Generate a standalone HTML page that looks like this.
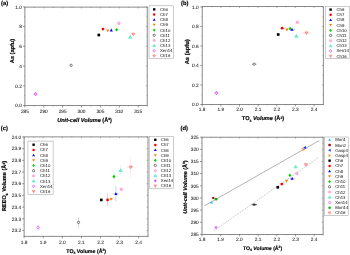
<!DOCTYPE html><html><head><meta charset="utf-8"><style>html,body{margin:0;padding:0;background:#fff;width:350px;height:255px;overflow:hidden}svg{display:block;filter:blur(0.4px)}text{font-family:"Liberation Sans",sans-serif;text-rendering:geometricPrecision}</style></head><body>
<svg width="350" height="255" viewBox="0 0 350 255">
<rect width="350" height="255" fill="#fff"/>
<rect x="24.90" y="7.10" width="122.30" height="98.50" fill="none" stroke="#6e6e6e" stroke-width="0.8"/>
<line x1="24.90" y1="105.60" x2="24.90" y2="107.50" stroke="#555" stroke-width="0.6" />
<line x1="24.90" y1="7.10" x2="24.90" y2="8.50" stroke="#6e6e6e" stroke-width="0.5" />
<text x="24.90" y="112.80" font-size="4.8" text-anchor="middle" font-weight="normal" font-style="normal" fill="#222222" stroke="#222222" stroke-width="0.05" >285</text>
<line x1="43.77" y1="105.60" x2="43.77" y2="107.50" stroke="#555" stroke-width="0.6" />
<line x1="43.77" y1="7.10" x2="43.77" y2="8.50" stroke="#6e6e6e" stroke-width="0.5" />
<text x="43.77" y="112.80" font-size="4.8" text-anchor="middle" font-weight="normal" font-style="normal" fill="#222222" stroke="#222222" stroke-width="0.05" >290</text>
<line x1="62.65" y1="105.60" x2="62.65" y2="107.50" stroke="#555" stroke-width="0.6" />
<line x1="62.65" y1="7.10" x2="62.65" y2="8.50" stroke="#6e6e6e" stroke-width="0.5" />
<text x="62.65" y="112.80" font-size="4.8" text-anchor="middle" font-weight="normal" font-style="normal" fill="#222222" stroke="#222222" stroke-width="0.05" >295</text>
<line x1="81.53" y1="105.60" x2="81.53" y2="107.50" stroke="#555" stroke-width="0.6" />
<line x1="81.53" y1="7.10" x2="81.53" y2="8.50" stroke="#6e6e6e" stroke-width="0.5" />
<text x="81.53" y="112.80" font-size="4.8" text-anchor="middle" font-weight="normal" font-style="normal" fill="#222222" stroke="#222222" stroke-width="0.05" >300</text>
<line x1="100.40" y1="105.60" x2="100.40" y2="107.50" stroke="#555" stroke-width="0.6" />
<line x1="100.40" y1="7.10" x2="100.40" y2="8.50" stroke="#6e6e6e" stroke-width="0.5" />
<text x="100.40" y="112.80" font-size="4.8" text-anchor="middle" font-weight="normal" font-style="normal" fill="#222222" stroke="#222222" stroke-width="0.05" >305</text>
<line x1="119.28" y1="105.60" x2="119.28" y2="107.50" stroke="#555" stroke-width="0.6" />
<line x1="119.28" y1="7.10" x2="119.28" y2="8.50" stroke="#6e6e6e" stroke-width="0.5" />
<text x="119.28" y="112.80" font-size="4.8" text-anchor="middle" font-weight="normal" font-style="normal" fill="#222222" stroke="#222222" stroke-width="0.05" >310</text>
<line x1="138.15" y1="105.60" x2="138.15" y2="107.50" stroke="#555" stroke-width="0.6" />
<line x1="138.15" y1="7.10" x2="138.15" y2="8.50" stroke="#6e6e6e" stroke-width="0.5" />
<text x="138.15" y="112.80" font-size="4.8" text-anchor="middle" font-weight="normal" font-style="normal" fill="#222222" stroke="#222222" stroke-width="0.05" >315</text>
<line x1="34.34" y1="105.60" x2="34.34" y2="106.40" stroke="#6e6e6e" stroke-width="0.45" />
<line x1="34.34" y1="7.10" x2="34.34" y2="7.90" stroke="#6e6e6e" stroke-width="0.45" />
<line x1="53.21" y1="105.60" x2="53.21" y2="106.40" stroke="#6e6e6e" stroke-width="0.45" />
<line x1="53.21" y1="7.10" x2="53.21" y2="7.90" stroke="#6e6e6e" stroke-width="0.45" />
<line x1="72.09" y1="105.60" x2="72.09" y2="106.40" stroke="#6e6e6e" stroke-width="0.45" />
<line x1="72.09" y1="7.10" x2="72.09" y2="7.90" stroke="#6e6e6e" stroke-width="0.45" />
<line x1="90.96" y1="105.60" x2="90.96" y2="106.40" stroke="#6e6e6e" stroke-width="0.45" />
<line x1="90.96" y1="7.10" x2="90.96" y2="7.90" stroke="#6e6e6e" stroke-width="0.45" />
<line x1="109.84" y1="105.60" x2="109.84" y2="106.40" stroke="#6e6e6e" stroke-width="0.45" />
<line x1="109.84" y1="7.10" x2="109.84" y2="7.90" stroke="#6e6e6e" stroke-width="0.45" />
<line x1="128.71" y1="105.60" x2="128.71" y2="106.40" stroke="#6e6e6e" stroke-width="0.45" />
<line x1="128.71" y1="7.10" x2="128.71" y2="7.90" stroke="#6e6e6e" stroke-width="0.45" />
<line x1="147.59" y1="105.60" x2="147.59" y2="106.40" stroke="#6e6e6e" stroke-width="0.45" />
<line x1="147.59" y1="7.10" x2="147.59" y2="7.90" stroke="#6e6e6e" stroke-width="0.45" />
<line x1="24.90" y1="105.60" x2="23.00" y2="105.60" stroke="#555" stroke-width="0.6" />
<line x1="147.20" y1="105.60" x2="145.80" y2="105.60" stroke="#6e6e6e" stroke-width="0.5" />
<text x="21.80" y="107.30" font-size="4.8" text-anchor="end" font-weight="normal" font-style="normal" fill="#222222" stroke="#222222" stroke-width="0.05" >0.0</text>
<line x1="24.90" y1="85.84" x2="23.00" y2="85.84" stroke="#555" stroke-width="0.6" />
<line x1="147.20" y1="85.84" x2="145.80" y2="85.84" stroke="#6e6e6e" stroke-width="0.5" />
<text x="21.80" y="87.54" font-size="4.8" text-anchor="end" font-weight="normal" font-style="normal" fill="#222222" stroke="#222222" stroke-width="0.05" >0.2</text>
<line x1="24.90" y1="66.08" x2="23.00" y2="66.08" stroke="#555" stroke-width="0.6" />
<line x1="147.20" y1="66.08" x2="145.80" y2="66.08" stroke="#6e6e6e" stroke-width="0.5" />
<text x="21.80" y="67.78" font-size="4.8" text-anchor="end" font-weight="normal" font-style="normal" fill="#222222" stroke="#222222" stroke-width="0.05" ><tspan fill="#ccc" stroke="#ccc">.</tspan>4</text>
<line x1="24.90" y1="46.32" x2="23.00" y2="46.32" stroke="#555" stroke-width="0.6" />
<line x1="147.20" y1="46.32" x2="145.80" y2="46.32" stroke="#6e6e6e" stroke-width="0.5" />
<text x="21.80" y="48.02" font-size="4.8" text-anchor="end" font-weight="normal" font-style="normal" fill="#222222" stroke="#222222" stroke-width="0.05" ><tspan fill="#ccc" stroke="#ccc">.</tspan>6</text>
<line x1="24.90" y1="26.56" x2="23.00" y2="26.56" stroke="#555" stroke-width="0.6" />
<line x1="147.20" y1="26.56" x2="145.80" y2="26.56" stroke="#6e6e6e" stroke-width="0.5" />
<text x="21.80" y="28.26" font-size="4.8" text-anchor="end" font-weight="normal" font-style="normal" fill="#222222" stroke="#222222" stroke-width="0.05" ><tspan fill="#ccc" stroke="#ccc">.</tspan>8</text>
<line x1="24.90" y1="6.80" x2="23.00" y2="6.80" stroke="#555" stroke-width="0.6" />
<line x1="147.20" y1="6.80" x2="145.80" y2="6.80" stroke="#6e6e6e" stroke-width="0.5" />
<text x="21.80" y="8.50" font-size="4.8" text-anchor="end" font-weight="normal" font-style="normal" fill="#222222" stroke="#222222" stroke-width="0.05" >1.0</text>
<line x1="24.90" y1="95.72" x2="24.10" y2="95.72" stroke="#6e6e6e" stroke-width="0.45" />
<line x1="147.20" y1="95.72" x2="146.40" y2="95.72" stroke="#6e6e6e" stroke-width="0.45" />
<line x1="24.90" y1="75.96" x2="24.10" y2="75.96" stroke="#6e6e6e" stroke-width="0.45" />
<line x1="147.20" y1="75.96" x2="146.40" y2="75.96" stroke="#6e6e6e" stroke-width="0.45" />
<line x1="24.90" y1="56.20" x2="24.10" y2="56.20" stroke="#6e6e6e" stroke-width="0.45" />
<line x1="147.20" y1="56.20" x2="146.40" y2="56.20" stroke="#6e6e6e" stroke-width="0.45" />
<line x1="24.90" y1="36.44" x2="24.10" y2="36.44" stroke="#6e6e6e" stroke-width="0.45" />
<line x1="147.20" y1="36.44" x2="146.40" y2="36.44" stroke="#6e6e6e" stroke-width="0.45" />
<line x1="24.90" y1="16.68" x2="24.10" y2="16.68" stroke="#6e6e6e" stroke-width="0.45" />
<line x1="147.20" y1="16.68" x2="146.40" y2="16.68" stroke="#6e6e6e" stroke-width="0.45" />
<text x="1.00" y="5.30" font-size="5.8" text-anchor="start" font-weight="bold" font-style="normal" fill="#000000" stroke="#000000" stroke-width="0.16" >(a)</text>
<text x="84.50" y="122.00" font-size="5.6" text-anchor="middle" font-weight="bold" font-style="normal" fill="#000000" stroke="#000000" stroke-width="0.16" ><tspan font-style="italic">Unit-cell Volume </tspan>(Å<tspan font-size="3.2" dy="-1.8">3</tspan><tspan dy="1.8">)</tspan></text>
<text x="0.00" y="0.00" font-size="5.6" text-anchor="middle" font-weight="bold" font-style="normal" fill="#000000" stroke="#000000" stroke-width="0.16" transform="translate(13.9 51) rotate(-90)">As (apfu)</text>
<rect x="97.47" y="33.67" width="2.66" height="2.66" fill="#000000"/>
<circle cx="103.00" cy="29.10" r="1.40" fill="#ff0000"/>
<path d="M107.80 32.21L109.41 29.41L106.19 29.41Z" fill="#ff7a00"/>
<path d="M111.30 28.59L112.91 31.39L109.69 31.39Z" fill="#0000ff"/>
<path d="M116.60 27.88L118.14 29.70L116.60 31.52L115.06 29.70Z" fill="#00d000"/>
<circle cx="118.90" cy="23.30" r="1.33" fill="#ffb7e0" stroke="#ff88cc" stroke-width="0.56"/>
<path d="M130.20 35.56L131.74 38.22L128.66 38.22Z" fill="#95f2d7" stroke="#40e8b8" stroke-width="0.70" stroke-linejoin="round"/>
<path d="M133.30 35.84L134.84 33.18L131.76 33.18Z" fill="#ffb3b0" stroke="#ff7570" stroke-width="0.70" stroke-linejoin="round"/>
<circle cx="71.10" cy="65.30" r="1.15" fill="#fff" stroke="#3a3a3a" stroke-width="0.65"/>
<path d="M35.60 92.35L37.21 94.10L35.60 95.85L33.99 94.10Z" fill="#efa7ff" stroke="#e050ff" stroke-width="0.77" stroke-linejoin="round"/>
<rect x="149.00" y="5.80" width="24.30" height="52.70" fill="#fff" stroke="#999" stroke-width="0.5"/>
<rect x="153.01" y="8.21" width="2.38" height="2.38" fill="#000000"/>
<text x="160.00" y="10.90" font-size="4.3" text-anchor="start" font-weight="normal" font-style="normal" fill="#1e1e1e" stroke="#1e1e1e" stroke-width="0.03" >Ch6</text>
<circle cx="154.20" cy="14.57" r="1.25" fill="#ff0000"/>
<text x="160.00" y="16.07" font-size="4.3" text-anchor="start" font-weight="normal" font-style="normal" fill="#1e1e1e" stroke="#1e1e1e" stroke-width="0.03" >Ch7</text>
<path d="M154.20 18.30L155.64 20.80L152.76 20.80Z" fill="#0000ff"/>
<text x="160.00" y="21.24" font-size="4.3" text-anchor="start" font-weight="normal" font-style="normal" fill="#1e1e1e" stroke="#1e1e1e" stroke-width="0.03" >Ch8</text>
<path d="M154.20 26.35L155.64 23.85L152.76 23.85Z" fill="#ff7a00"/>
<text x="160.00" y="26.41" font-size="4.3" text-anchor="start" font-weight="normal" font-style="normal" fill="#1e1e1e" stroke="#1e1e1e" stroke-width="0.03" >Ch9</text>
<path d="M154.20 28.45L155.57 30.08L154.20 31.70L152.82 30.08Z" fill="#00d000"/>
<text x="160.00" y="31.58" font-size="4.3" text-anchor="start" font-weight="normal" font-style="normal" fill="#1e1e1e" stroke="#1e1e1e" stroke-width="0.03" >Ch10</text>
<circle cx="154.20" cy="35.25" r="1.15" fill="#fff" stroke="#3a3a3a" stroke-width="0.65"/>
<text x="160.00" y="36.75" font-size="4.3" text-anchor="start" font-weight="normal" font-style="normal" fill="#1e1e1e" stroke="#1e1e1e" stroke-width="0.03" >Ch11</text>
<circle cx="154.20" cy="40.42" r="1.19" fill="#ffb7e0" stroke="#ff88cc" stroke-width="0.50"/>
<text x="160.00" y="41.92" font-size="4.3" text-anchor="start" font-weight="normal" font-style="normal" fill="#1e1e1e" stroke="#1e1e1e" stroke-width="0.03" >Ch12</text>
<path d="M154.20 44.21L155.57 46.59L152.82 46.59Z" fill="#95f2d7" stroke="#40e8b8" stroke-width="0.62" stroke-linejoin="round"/>
<text x="160.00" y="47.09" font-size="4.3" text-anchor="start" font-weight="normal" font-style="normal" fill="#1e1e1e" stroke="#1e1e1e" stroke-width="0.03" >Ch13</text>
<path d="M154.20 49.26L155.45 50.76L154.20 52.26L152.95 50.76Z" fill="none" stroke="#e050ff" stroke-width="0.75"/>
<text x="160.00" y="52.26" font-size="4.3" text-anchor="start" font-weight="normal" font-style="normal" fill="#1e1e1e" stroke="#1e1e1e" stroke-width="0.03" >Xen14</text>
<path d="M154.20 57.30L155.57 54.93L152.82 54.93Z" fill="#ffb3b0" stroke="#ff7570" stroke-width="0.62" stroke-linejoin="round"/>
<text x="160.00" y="57.43" font-size="4.3" text-anchor="start" font-weight="normal" font-style="normal" fill="#1e1e1e" stroke="#1e1e1e" stroke-width="0.03" >Ch16</text>
<rect x="202.20" y="6.60" width="121.10" height="97.90" fill="none" stroke="#6e6e6e" stroke-width="0.8"/>
<line x1="202.20" y1="104.50" x2="202.20" y2="106.40" stroke="#555" stroke-width="0.6" />
<line x1="202.20" y1="6.60" x2="202.20" y2="8.00" stroke="#6e6e6e" stroke-width="0.5" />
<text x="202.20" y="110.80" font-size="4.8" text-anchor="middle" font-weight="normal" font-style="normal" fill="#222222" stroke="#222222" stroke-width="0.05" >1.8</text>
<line x1="220.85" y1="104.50" x2="220.85" y2="106.40" stroke="#555" stroke-width="0.6" />
<line x1="220.85" y1="6.60" x2="220.85" y2="8.00" stroke="#6e6e6e" stroke-width="0.5" />
<text x="220.85" y="110.80" font-size="4.8" text-anchor="middle" font-weight="normal" font-style="normal" fill="#222222" stroke="#222222" stroke-width="0.05" >1.9</text>
<line x1="239.50" y1="104.50" x2="239.50" y2="106.40" stroke="#555" stroke-width="0.6" />
<line x1="239.50" y1="6.60" x2="239.50" y2="8.00" stroke="#6e6e6e" stroke-width="0.5" />
<text x="239.50" y="110.80" font-size="4.8" text-anchor="middle" font-weight="normal" font-style="normal" fill="#222222" stroke="#222222" stroke-width="0.05" >2.0</text>
<line x1="258.15" y1="104.50" x2="258.15" y2="106.40" stroke="#555" stroke-width="0.6" />
<line x1="258.15" y1="6.60" x2="258.15" y2="8.00" stroke="#6e6e6e" stroke-width="0.5" />
<text x="258.15" y="110.80" font-size="4.8" text-anchor="middle" font-weight="normal" font-style="normal" fill="#222222" stroke="#222222" stroke-width="0.05" >2.1</text>
<line x1="276.80" y1="104.50" x2="276.80" y2="106.40" stroke="#555" stroke-width="0.6" />
<line x1="276.80" y1="6.60" x2="276.80" y2="8.00" stroke="#6e6e6e" stroke-width="0.5" />
<text x="276.80" y="110.80" font-size="4.8" text-anchor="middle" font-weight="normal" font-style="normal" fill="#222222" stroke="#222222" stroke-width="0.05" >2.2</text>
<line x1="295.45" y1="104.50" x2="295.45" y2="106.40" stroke="#555" stroke-width="0.6" />
<line x1="295.45" y1="6.60" x2="295.45" y2="8.00" stroke="#6e6e6e" stroke-width="0.5" />
<text x="295.45" y="110.80" font-size="4.8" text-anchor="middle" font-weight="normal" font-style="normal" fill="#222222" stroke="#222222" stroke-width="0.05" >2.3</text>
<line x1="314.10" y1="104.50" x2="314.10" y2="106.40" stroke="#555" stroke-width="0.6" />
<line x1="314.10" y1="6.60" x2="314.10" y2="8.00" stroke="#6e6e6e" stroke-width="0.5" />
<text x="314.10" y="110.80" font-size="4.8" text-anchor="middle" font-weight="normal" font-style="normal" fill="#222222" stroke="#222222" stroke-width="0.05" >2.4</text>
<line x1="211.53" y1="104.50" x2="211.53" y2="105.30" stroke="#6e6e6e" stroke-width="0.45" />
<line x1="211.53" y1="6.60" x2="211.53" y2="7.40" stroke="#6e6e6e" stroke-width="0.45" />
<line x1="230.17" y1="104.50" x2="230.17" y2="105.30" stroke="#6e6e6e" stroke-width="0.45" />
<line x1="230.17" y1="6.60" x2="230.17" y2="7.40" stroke="#6e6e6e" stroke-width="0.45" />
<line x1="248.82" y1="104.50" x2="248.82" y2="105.30" stroke="#6e6e6e" stroke-width="0.45" />
<line x1="248.82" y1="6.60" x2="248.82" y2="7.40" stroke="#6e6e6e" stroke-width="0.45" />
<line x1="267.47" y1="104.50" x2="267.47" y2="105.30" stroke="#6e6e6e" stroke-width="0.45" />
<line x1="267.47" y1="6.60" x2="267.47" y2="7.40" stroke="#6e6e6e" stroke-width="0.45" />
<line x1="286.12" y1="104.50" x2="286.12" y2="105.30" stroke="#6e6e6e" stroke-width="0.45" />
<line x1="286.12" y1="6.60" x2="286.12" y2="7.40" stroke="#6e6e6e" stroke-width="0.45" />
<line x1="304.77" y1="104.50" x2="304.77" y2="105.30" stroke="#6e6e6e" stroke-width="0.45" />
<line x1="304.77" y1="6.60" x2="304.77" y2="7.40" stroke="#6e6e6e" stroke-width="0.45" />
<line x1="323.43" y1="104.50" x2="323.43" y2="105.30" stroke="#6e6e6e" stroke-width="0.45" />
<line x1="323.43" y1="6.60" x2="323.43" y2="7.40" stroke="#6e6e6e" stroke-width="0.45" />
<line x1="202.20" y1="104.50" x2="200.30" y2="104.50" stroke="#555" stroke-width="0.6" />
<line x1="323.30" y1="104.50" x2="321.90" y2="104.50" stroke="#6e6e6e" stroke-width="0.5" />
<text x="198.60" y="106.20" font-size="4.8" text-anchor="end" font-weight="normal" font-style="normal" fill="#222222" stroke="#222222" stroke-width="0.05" >0.0</text>
<line x1="202.20" y1="84.98" x2="200.30" y2="84.98" stroke="#555" stroke-width="0.6" />
<line x1="323.30" y1="84.98" x2="321.90" y2="84.98" stroke="#6e6e6e" stroke-width="0.5" />
<text x="198.60" y="86.68" font-size="4.8" text-anchor="end" font-weight="normal" font-style="normal" fill="#222222" stroke="#222222" stroke-width="0.05" >0.2</text>
<line x1="202.20" y1="65.46" x2="200.30" y2="65.46" stroke="#555" stroke-width="0.6" />
<line x1="323.30" y1="65.46" x2="321.90" y2="65.46" stroke="#6e6e6e" stroke-width="0.5" />
<text x="198.60" y="67.16" font-size="4.8" text-anchor="end" font-weight="normal" font-style="normal" fill="#222222" stroke="#222222" stroke-width="0.05" >0.4</text>
<line x1="202.20" y1="45.94" x2="200.30" y2="45.94" stroke="#555" stroke-width="0.6" />
<line x1="323.30" y1="45.94" x2="321.90" y2="45.94" stroke="#6e6e6e" stroke-width="0.5" />
<text x="198.60" y="47.64" font-size="4.8" text-anchor="end" font-weight="normal" font-style="normal" fill="#222222" stroke="#222222" stroke-width="0.05" >0.6</text>
<line x1="202.20" y1="26.42" x2="200.30" y2="26.42" stroke="#555" stroke-width="0.6" />
<line x1="323.30" y1="26.42" x2="321.90" y2="26.42" stroke="#6e6e6e" stroke-width="0.5" />
<text x="198.60" y="28.12" font-size="4.8" text-anchor="end" font-weight="normal" font-style="normal" fill="#222222" stroke="#222222" stroke-width="0.05" >0.8</text>
<line x1="202.20" y1="6.90" x2="200.30" y2="6.90" stroke="#555" stroke-width="0.6" />
<line x1="323.30" y1="6.90" x2="321.90" y2="6.90" stroke="#6e6e6e" stroke-width="0.5" />
<text x="198.60" y="8.60" font-size="4.8" text-anchor="end" font-weight="normal" font-style="normal" fill="#222222" stroke="#222222" stroke-width="0.05" >1.0</text>
<line x1="202.20" y1="94.74" x2="201.40" y2="94.74" stroke="#6e6e6e" stroke-width="0.45" />
<line x1="323.30" y1="94.74" x2="322.50" y2="94.74" stroke="#6e6e6e" stroke-width="0.45" />
<line x1="202.20" y1="75.22" x2="201.40" y2="75.22" stroke="#6e6e6e" stroke-width="0.45" />
<line x1="323.30" y1="75.22" x2="322.50" y2="75.22" stroke="#6e6e6e" stroke-width="0.45" />
<line x1="202.20" y1="55.70" x2="201.40" y2="55.70" stroke="#6e6e6e" stroke-width="0.45" />
<line x1="323.30" y1="55.70" x2="322.50" y2="55.70" stroke="#6e6e6e" stroke-width="0.45" />
<line x1="202.20" y1="36.18" x2="201.40" y2="36.18" stroke="#6e6e6e" stroke-width="0.45" />
<line x1="323.30" y1="36.18" x2="322.50" y2="36.18" stroke="#6e6e6e" stroke-width="0.45" />
<line x1="202.20" y1="16.66" x2="201.40" y2="16.66" stroke="#6e6e6e" stroke-width="0.45" />
<line x1="323.30" y1="16.66" x2="322.50" y2="16.66" stroke="#6e6e6e" stroke-width="0.45" />
<text x="181.10" y="5.30" font-size="5.8" text-anchor="start" font-weight="bold" font-style="normal" fill="#000000" stroke="#000000" stroke-width="0.16" >(b)</text>
<text x="263.00" y="120.40" font-size="5.6" text-anchor="middle" font-weight="bold" font-style="normal" fill="#000000" stroke="#000000" stroke-width="0.16" >TO<tspan font-size="3.4" dy="1.2">4</tspan><tspan dy="-1.2" font-style="italic"> Volume </tspan>(Å<tspan font-size="3.4" dy="-1.9">3</tspan><tspan dy="1.9">)</tspan></text>
<text x="0.00" y="0.00" font-size="5.8" text-anchor="middle" font-weight="bold" font-style="normal" fill="#000000" stroke="#000000" stroke-width="0.16" transform="translate(188.7 51.8) rotate(-90)">As (apfu)</text>
<line x1="279.40" y1="28.20" x2="285.10" y2="28.20" stroke="#ff0000" stroke-width="0.4" opacity="0.5"/>
<line x1="289.00" y1="29.60" x2="295.10" y2="29.60" stroke="#0000ff" stroke-width="0.4" opacity="0.5"/>
<line x1="301.40" y1="33.00" x2="310.90" y2="33.00" stroke="#ff7570" stroke-width="0.4" opacity="0.5"/>
<rect x="276.87" y="33.17" width="2.66" height="2.66" fill="#000000"/>
<circle cx="282.20" cy="28.20" r="1.40" fill="#ff0000"/>
<path d="M287.00 31.41L288.61 28.61L285.39 28.61Z" fill="#ff7a00"/>
<path d="M290.10 26.78L291.64 28.60L290.10 30.42L288.56 28.60Z" fill="#00d000"/>
<path d="M292.00 27.99L293.61 30.79L290.39 30.79Z" fill="#0000ff"/>
<circle cx="297.30" cy="22.30" r="1.33" fill="#ffb7e0" stroke="#ff88cc" stroke-width="0.56"/>
<path d="M296.40 34.56L297.94 37.22L294.86 37.22Z" fill="#95f2d7" stroke="#40e8b8" stroke-width="0.70" stroke-linejoin="round"/>
<path d="M306.50 34.54L308.04 31.88L304.96 31.88Z" fill="#ffb3b0" stroke="#ff7570" stroke-width="0.70" stroke-linejoin="round"/>
<line x1="252.00" y1="64.20" x2="256.50" y2="64.20" stroke="#555" stroke-width="0.5" />
<circle cx="254.20" cy="64.20" r="1.15" fill="#fff" stroke="#3a3a3a" stroke-width="0.65"/>
<path d="M216.50 91.15L218.11 92.90L216.50 94.65L214.89 92.90Z" fill="#efa7ff" stroke="#e050ff" stroke-width="0.77" stroke-linejoin="round"/>
<rect x="325.30" y="6.30" width="23.90" height="52.00" fill="#fff" stroke="#999" stroke-width="0.5"/>
<rect x="329.41" y="8.41" width="2.38" height="2.38" fill="#000000"/>
<text x="336.40" y="11.10" font-size="4.3" text-anchor="start" font-weight="normal" font-style="normal" fill="#1e1e1e" stroke="#1e1e1e" stroke-width="0.03" >Ch6</text>
<circle cx="330.60" cy="14.77" r="1.25" fill="#ff0000"/>
<text x="336.40" y="16.27" font-size="4.3" text-anchor="start" font-weight="normal" font-style="normal" fill="#1e1e1e" stroke="#1e1e1e" stroke-width="0.03" >Ch7</text>
<path d="M330.60 18.50L332.04 21.00L329.16 21.00Z" fill="#0000ff"/>
<text x="336.40" y="21.44" font-size="4.3" text-anchor="start" font-weight="normal" font-style="normal" fill="#1e1e1e" stroke="#1e1e1e" stroke-width="0.03" >Ch8</text>
<path d="M330.60 26.55L332.04 24.05L329.16 24.05Z" fill="#ff7a00"/>
<text x="336.40" y="26.61" font-size="4.3" text-anchor="start" font-weight="normal" font-style="normal" fill="#1e1e1e" stroke="#1e1e1e" stroke-width="0.03" >Ch9</text>
<path d="M330.60 28.66L331.98 30.28L330.60 31.91L329.23 30.28Z" fill="#00d000"/>
<text x="336.40" y="31.78" font-size="4.3" text-anchor="start" font-weight="normal" font-style="normal" fill="#1e1e1e" stroke="#1e1e1e" stroke-width="0.03" >Ch10</text>
<circle cx="330.60" cy="35.45" r="1.15" fill="#fff" stroke="#3a3a3a" stroke-width="0.65"/>
<text x="336.40" y="36.95" font-size="4.3" text-anchor="start" font-weight="normal" font-style="normal" fill="#1e1e1e" stroke="#1e1e1e" stroke-width="0.03" >Ch11</text>
<circle cx="330.60" cy="40.62" r="1.19" fill="#ffb7e0" stroke="#ff88cc" stroke-width="0.50"/>
<text x="336.40" y="42.12" font-size="4.3" text-anchor="start" font-weight="normal" font-style="normal" fill="#1e1e1e" stroke="#1e1e1e" stroke-width="0.03" >Ch12</text>
<path d="M330.60 44.41L331.98 46.79L329.23 46.79Z" fill="#95f2d7" stroke="#40e8b8" stroke-width="0.62" stroke-linejoin="round"/>
<text x="336.40" y="47.29" font-size="4.3" text-anchor="start" font-weight="normal" font-style="normal" fill="#1e1e1e" stroke="#1e1e1e" stroke-width="0.03" >Ch13</text>
<path d="M330.60 49.46L331.85 50.96L330.60 52.46L329.35 50.96Z" fill="none" stroke="#e050ff" stroke-width="0.75"/>
<text x="336.40" y="52.46" font-size="4.3" text-anchor="start" font-weight="normal" font-style="normal" fill="#1e1e1e" stroke="#1e1e1e" stroke-width="0.03" >Xen14</text>
<path d="M330.60 57.51L331.98 55.13L329.23 55.13Z" fill="#ffb3b0" stroke="#ff7570" stroke-width="0.62" stroke-linejoin="round"/>
<text x="336.40" y="57.63" font-size="4.3" text-anchor="start" font-weight="normal" font-style="normal" fill="#1e1e1e" stroke="#1e1e1e" stroke-width="0.03" >Ch16</text>
<rect x="24.10" y="136.90" width="123.90" height="99.40" fill="none" stroke="#6e6e6e" stroke-width="0.8"/>
<line x1="24.10" y1="236.30" x2="24.10" y2="238.20" stroke="#555" stroke-width="0.6" />
<line x1="24.10" y1="136.90" x2="24.10" y2="138.30" stroke="#6e6e6e" stroke-width="0.5" />
<text x="24.10" y="243.60" font-size="4.8" text-anchor="middle" font-weight="normal" font-style="normal" fill="#222222" stroke="#222222" stroke-width="0.05" >1.8</text>
<line x1="43.20" y1="236.30" x2="43.20" y2="238.20" stroke="#555" stroke-width="0.6" />
<line x1="43.20" y1="136.90" x2="43.20" y2="138.30" stroke="#6e6e6e" stroke-width="0.5" />
<text x="43.20" y="243.60" font-size="4.8" text-anchor="middle" font-weight="normal" font-style="normal" fill="#222222" stroke="#222222" stroke-width="0.05" >1.9</text>
<line x1="62.30" y1="236.30" x2="62.30" y2="238.20" stroke="#555" stroke-width="0.6" />
<line x1="62.30" y1="136.90" x2="62.30" y2="138.30" stroke="#6e6e6e" stroke-width="0.5" />
<text x="62.30" y="243.60" font-size="4.8" text-anchor="middle" font-weight="normal" font-style="normal" fill="#222222" stroke="#222222" stroke-width="0.05" >2.0</text>
<line x1="81.40" y1="236.30" x2="81.40" y2="238.20" stroke="#555" stroke-width="0.6" />
<line x1="81.40" y1="136.90" x2="81.40" y2="138.30" stroke="#6e6e6e" stroke-width="0.5" />
<text x="81.40" y="243.60" font-size="4.8" text-anchor="middle" font-weight="normal" font-style="normal" fill="#222222" stroke="#222222" stroke-width="0.05" >2.1</text>
<line x1="100.50" y1="236.30" x2="100.50" y2="238.20" stroke="#555" stroke-width="0.6" />
<line x1="100.50" y1="136.90" x2="100.50" y2="138.30" stroke="#6e6e6e" stroke-width="0.5" />
<text x="100.50" y="243.60" font-size="4.8" text-anchor="middle" font-weight="normal" font-style="normal" fill="#222222" stroke="#222222" stroke-width="0.05" >2.2</text>
<line x1="119.60" y1="236.30" x2="119.60" y2="238.20" stroke="#555" stroke-width="0.6" />
<line x1="119.60" y1="136.90" x2="119.60" y2="138.30" stroke="#6e6e6e" stroke-width="0.5" />
<text x="119.60" y="243.60" font-size="4.8" text-anchor="middle" font-weight="normal" font-style="normal" fill="#222222" stroke="#222222" stroke-width="0.05" >2.3</text>
<line x1="138.70" y1="236.30" x2="138.70" y2="238.20" stroke="#555" stroke-width="0.6" />
<line x1="138.70" y1="136.90" x2="138.70" y2="138.30" stroke="#6e6e6e" stroke-width="0.5" />
<text x="138.70" y="243.60" font-size="4.8" text-anchor="middle" font-weight="normal" font-style="normal" fill="#222222" stroke="#222222" stroke-width="0.05" >2.4</text>
<line x1="33.65" y1="236.30" x2="33.65" y2="237.10" stroke="#6e6e6e" stroke-width="0.45" />
<line x1="33.65" y1="136.90" x2="33.65" y2="137.70" stroke="#6e6e6e" stroke-width="0.45" />
<line x1="52.75" y1="236.30" x2="52.75" y2="237.10" stroke="#6e6e6e" stroke-width="0.45" />
<line x1="52.75" y1="136.90" x2="52.75" y2="137.70" stroke="#6e6e6e" stroke-width="0.45" />
<line x1="71.85" y1="236.30" x2="71.85" y2="237.10" stroke="#6e6e6e" stroke-width="0.45" />
<line x1="71.85" y1="136.90" x2="71.85" y2="137.70" stroke="#6e6e6e" stroke-width="0.45" />
<line x1="90.95" y1="236.30" x2="90.95" y2="237.10" stroke="#6e6e6e" stroke-width="0.45" />
<line x1="90.95" y1="136.90" x2="90.95" y2="137.70" stroke="#6e6e6e" stroke-width="0.45" />
<line x1="110.05" y1="236.30" x2="110.05" y2="237.10" stroke="#6e6e6e" stroke-width="0.45" />
<line x1="110.05" y1="136.90" x2="110.05" y2="137.70" stroke="#6e6e6e" stroke-width="0.45" />
<line x1="129.15" y1="236.30" x2="129.15" y2="237.10" stroke="#6e6e6e" stroke-width="0.45" />
<line x1="129.15" y1="136.90" x2="129.15" y2="137.70" stroke="#6e6e6e" stroke-width="0.45" />
<line x1="148.25" y1="236.30" x2="148.25" y2="237.10" stroke="#6e6e6e" stroke-width="0.45" />
<line x1="148.25" y1="136.90" x2="148.25" y2="137.70" stroke="#6e6e6e" stroke-width="0.45" />
<line x1="24.10" y1="230.50" x2="22.20" y2="230.50" stroke="#555" stroke-width="0.6" />
<line x1="148.00" y1="230.50" x2="146.60" y2="230.50" stroke="#6e6e6e" stroke-width="0.5" />
<text x="21.10" y="232.20" font-size="4.8" text-anchor="end" font-weight="normal" font-style="normal" fill="#222222" stroke="#222222" stroke-width="0.05" >23.2</text>
<line x1="24.10" y1="218.80" x2="22.20" y2="218.80" stroke="#555" stroke-width="0.6" />
<line x1="148.00" y1="218.80" x2="146.60" y2="218.80" stroke="#6e6e6e" stroke-width="0.5" />
<text x="21.10" y="220.50" font-size="4.8" text-anchor="end" font-weight="normal" font-style="normal" fill="#222222" stroke="#222222" stroke-width="0.05" >23.3</text>
<line x1="24.10" y1="207.10" x2="22.20" y2="207.10" stroke="#555" stroke-width="0.6" />
<line x1="148.00" y1="207.10" x2="146.60" y2="207.10" stroke="#6e6e6e" stroke-width="0.5" />
<text x="21.10" y="208.80" font-size="4.8" text-anchor="end" font-weight="normal" font-style="normal" fill="#222222" stroke="#222222" stroke-width="0.05" >23.4</text>
<line x1="24.10" y1="195.40" x2="22.20" y2="195.40" stroke="#555" stroke-width="0.6" />
<line x1="148.00" y1="195.40" x2="146.60" y2="195.40" stroke="#6e6e6e" stroke-width="0.5" />
<text x="21.10" y="197.10" font-size="4.8" text-anchor="end" font-weight="normal" font-style="normal" fill="#222222" stroke="#222222" stroke-width="0.05" >23.5</text>
<line x1="24.10" y1="183.70" x2="22.20" y2="183.70" stroke="#555" stroke-width="0.6" />
<line x1="148.00" y1="183.70" x2="146.60" y2="183.70" stroke="#6e6e6e" stroke-width="0.5" />
<text x="21.10" y="185.40" font-size="4.8" text-anchor="end" font-weight="normal" font-style="normal" fill="#222222" stroke="#222222" stroke-width="0.05" >23.6</text>
<line x1="24.10" y1="172.00" x2="22.20" y2="172.00" stroke="#555" stroke-width="0.6" />
<line x1="148.00" y1="172.00" x2="146.60" y2="172.00" stroke="#6e6e6e" stroke-width="0.5" />
<text x="21.10" y="173.70" font-size="4.8" text-anchor="end" font-weight="normal" font-style="normal" fill="#222222" stroke="#222222" stroke-width="0.05" >23.7</text>
<line x1="24.10" y1="160.30" x2="22.20" y2="160.30" stroke="#555" stroke-width="0.6" />
<line x1="148.00" y1="160.30" x2="146.60" y2="160.30" stroke="#6e6e6e" stroke-width="0.5" />
<text x="21.10" y="162.00" font-size="4.8" text-anchor="end" font-weight="normal" font-style="normal" fill="#222222" stroke="#222222" stroke-width="0.05" >23.8</text>
<line x1="24.10" y1="148.60" x2="22.20" y2="148.60" stroke="#555" stroke-width="0.6" />
<line x1="148.00" y1="148.60" x2="146.60" y2="148.60" stroke="#6e6e6e" stroke-width="0.5" />
<text x="21.10" y="150.30" font-size="4.8" text-anchor="end" font-weight="normal" font-style="normal" fill="#222222" stroke="#222222" stroke-width="0.05" >23.9</text>
<line x1="24.10" y1="136.90" x2="22.20" y2="136.90" stroke="#555" stroke-width="0.6" />
<line x1="148.00" y1="136.90" x2="146.60" y2="136.90" stroke="#6e6e6e" stroke-width="0.5" />
<text x="21.10" y="138.60" font-size="4.8" text-anchor="end" font-weight="normal" font-style="normal" fill="#222222" stroke="#222222" stroke-width="0.05" >24.0</text>
<line x1="24.10" y1="236.35" x2="23.30" y2="236.35" stroke="#6e6e6e" stroke-width="0.45" />
<line x1="148.00" y1="236.35" x2="147.20" y2="236.35" stroke="#6e6e6e" stroke-width="0.45" />
<line x1="24.10" y1="224.65" x2="23.30" y2="224.65" stroke="#6e6e6e" stroke-width="0.45" />
<line x1="148.00" y1="224.65" x2="147.20" y2="224.65" stroke="#6e6e6e" stroke-width="0.45" />
<line x1="24.10" y1="212.95" x2="23.30" y2="212.95" stroke="#6e6e6e" stroke-width="0.45" />
<line x1="148.00" y1="212.95" x2="147.20" y2="212.95" stroke="#6e6e6e" stroke-width="0.45" />
<line x1="24.10" y1="201.25" x2="23.30" y2="201.25" stroke="#6e6e6e" stroke-width="0.45" />
<line x1="148.00" y1="201.25" x2="147.20" y2="201.25" stroke="#6e6e6e" stroke-width="0.45" />
<line x1="24.10" y1="189.55" x2="23.30" y2="189.55" stroke="#6e6e6e" stroke-width="0.45" />
<line x1="148.00" y1="189.55" x2="147.20" y2="189.55" stroke="#6e6e6e" stroke-width="0.45" />
<line x1="24.10" y1="177.85" x2="23.30" y2="177.85" stroke="#6e6e6e" stroke-width="0.45" />
<line x1="148.00" y1="177.85" x2="147.20" y2="177.85" stroke="#6e6e6e" stroke-width="0.45" />
<line x1="24.10" y1="166.15" x2="23.30" y2="166.15" stroke="#6e6e6e" stroke-width="0.45" />
<line x1="148.00" y1="166.15" x2="147.20" y2="166.15" stroke="#6e6e6e" stroke-width="0.45" />
<line x1="24.10" y1="154.45" x2="23.30" y2="154.45" stroke="#6e6e6e" stroke-width="0.45" />
<line x1="148.00" y1="154.45" x2="147.20" y2="154.45" stroke="#6e6e6e" stroke-width="0.45" />
<line x1="24.10" y1="142.75" x2="23.30" y2="142.75" stroke="#6e6e6e" stroke-width="0.45" />
<line x1="148.00" y1="142.75" x2="147.20" y2="142.75" stroke="#6e6e6e" stroke-width="0.45" />
<text x="0.80" y="129.60" font-size="5.8" text-anchor="start" font-weight="bold" font-style="normal" fill="#000000" stroke="#000000" stroke-width="0.16" >(c)</text>
<text x="86.20" y="252.60" font-size="5.25" text-anchor="middle" font-weight="bold" font-style="normal" fill="#000000" stroke="#000000" stroke-width="0.16" >TO<tspan font-size="3.4" dy="1.2">4</tspan><tspan dy="-1.2"> Volume (Å</tspan><tspan font-size="3.4" dy="-1.9">3</tspan><tspan dy="1.9">)</tspan></text>
<text x="0.00" y="0.00" font-size="5.6" text-anchor="middle" font-weight="bold" font-style="normal" fill="#000000" stroke="#000000" stroke-width="0.16" transform="translate(6.3 186) rotate(-90)">REEO<tspan font-size="3.2" dy="1.2">6</tspan><tspan dy="-1.2"> Volume </tspan>(Å<tspan font-size="3.2" dy="-1.8">3</tspan><tspan dy="1.8">)</tspan></text>
<line x1="107.60" y1="193.30" x2="107.60" y2="206.30" stroke="#ff0000" stroke-width="0.4" opacity="0.5"/>
<line x1="109.50" y1="199.10" x2="113.00" y2="199.10" stroke="#ff7a00" stroke-width="0.4" opacity="0.5"/>
<line x1="112.70" y1="193.80" x2="119.00" y2="193.80" stroke="#0000ff" stroke-width="0.4" opacity="0.5"/>
<line x1="115.90" y1="186.30" x2="115.90" y2="201.20" stroke="#0000ff" stroke-width="0.4" opacity="0.5"/>
<line x1="114.00" y1="172.00" x2="114.00" y2="180.60" stroke="#00d000" stroke-width="0.4" opacity="0.5"/>
<line x1="120.60" y1="165.40" x2="120.60" y2="175.00" stroke="#40e8b8" stroke-width="0.4" opacity="0.5"/>
<line x1="125.70" y1="167.20" x2="135.50" y2="167.20" stroke="#ff7570" stroke-width="0.4" opacity="0.5"/>
<line x1="130.80" y1="156.30" x2="130.80" y2="179.00" stroke="#ff7570" stroke-width="0.4" opacity="0.5"/>
<line x1="78.50" y1="217.20" x2="78.50" y2="227.50" stroke="#333" stroke-width="0.4" opacity="0.5"/>
<line x1="38.20" y1="223.70" x2="38.20" y2="231.20" stroke="#e050ff" stroke-width="0.4" opacity="0.5"/>
<rect x="99.97" y="198.57" width="2.66" height="2.66" fill="#000000"/>
<circle cx="107.60" cy="199.90" r="1.40" fill="#ff0000"/>
<path d="M111.20 200.71L112.81 197.91L109.59 197.91Z" fill="#ff7a00"/>
<path d="M115.90 192.19L117.51 194.99L114.29 194.99Z" fill="#0000ff"/>
<circle cx="121.30" cy="189.40" r="1.33" fill="#ffb7e0" stroke="#ff88cc" stroke-width="0.56"/>
<path d="M114.00 174.78L115.54 176.60L114.00 178.42L112.46 176.60Z" fill="#00d000"/>
<path d="M120.60 168.86L122.14 171.52L119.06 171.52Z" fill="#95f2d7" stroke="#40e8b8" stroke-width="0.70" stroke-linejoin="round"/>
<path d="M130.80 168.74L132.34 166.08L129.26 166.08Z" fill="#ffb3b0" stroke="#ff7570" stroke-width="0.70" stroke-linejoin="round"/>
<circle cx="78.50" cy="222.40" r="1.15" fill="#fff" stroke="#3a3a3a" stroke-width="0.65"/>
<path d="M38.20 225.82L39.60 227.50L38.20 229.18L36.80 227.50Z" fill="none" stroke="#e050ff" stroke-width="0.84"/>
<rect x="27.90" y="141.10" width="25.20" height="53.20" fill="#fff" stroke="#999" stroke-width="0.5"/>
<rect x="32.41" y="143.51" width="2.38" height="2.38" fill="#000000"/>
<text x="40.00" y="146.20" font-size="4.3" text-anchor="start" font-weight="normal" font-style="normal" fill="#1e1e1e" stroke="#1e1e1e" stroke-width="0.03" >Ch6</text>
<circle cx="33.60" cy="149.90" r="1.25" fill="#ff0000"/>
<text x="40.00" y="151.40" font-size="4.3" text-anchor="start" font-weight="normal" font-style="normal" fill="#1e1e1e" stroke="#1e1e1e" stroke-width="0.03" >Ch7</text>
<path d="M33.60 153.66L35.04 156.16L32.16 156.16Z" fill="#0000ff"/>
<text x="40.00" y="156.60" font-size="4.3" text-anchor="start" font-weight="normal" font-style="normal" fill="#1e1e1e" stroke="#1e1e1e" stroke-width="0.03" >Ch8</text>
<path d="M33.60 161.74L35.04 159.24L32.16 159.24Z" fill="#ff7a00"/>
<text x="40.00" y="161.80" font-size="4.3" text-anchor="start" font-weight="normal" font-style="normal" fill="#1e1e1e" stroke="#1e1e1e" stroke-width="0.03" >Ch9</text>
<path d="M33.60 163.88L34.98 165.50L33.60 167.12L32.23 165.50Z" fill="#00d000"/>
<text x="40.00" y="167.00" font-size="4.3" text-anchor="start" font-weight="normal" font-style="normal" fill="#1e1e1e" stroke="#1e1e1e" stroke-width="0.03" >Ch10</text>
<circle cx="33.60" cy="170.70" r="1.15" fill="#fff" stroke="#3a3a3a" stroke-width="0.65"/>
<text x="40.00" y="172.20" font-size="4.3" text-anchor="start" font-weight="normal" font-style="normal" fill="#1e1e1e" stroke="#1e1e1e" stroke-width="0.03" >Ch11</text>
<circle cx="33.60" cy="175.90" r="1.19" fill="#ffb7e0" stroke="#ff88cc" stroke-width="0.50"/>
<text x="40.00" y="177.40" font-size="4.3" text-anchor="start" font-weight="normal" font-style="normal" fill="#1e1e1e" stroke="#1e1e1e" stroke-width="0.03" >Ch12</text>
<path d="M33.60 179.72L34.98 182.10L32.23 182.10Z" fill="#95f2d7" stroke="#40e8b8" stroke-width="0.62" stroke-linejoin="round"/>
<text x="40.00" y="182.60" font-size="4.3" text-anchor="start" font-weight="normal" font-style="normal" fill="#1e1e1e" stroke="#1e1e1e" stroke-width="0.03" >Ch13</text>
<path d="M33.60 184.80L34.85 186.30L33.60 187.80L32.35 186.30Z" fill="none" stroke="#e050ff" stroke-width="0.75"/>
<text x="40.00" y="187.80" font-size="4.3" text-anchor="start" font-weight="normal" font-style="normal" fill="#1e1e1e" stroke="#1e1e1e" stroke-width="0.03" >Xen14</text>
<path d="M33.60 192.88L34.98 190.50L32.23 190.50Z" fill="#ffb3b0" stroke="#ff7570" stroke-width="0.62" stroke-linejoin="round"/>
<text x="40.00" y="193.00" font-size="4.3" text-anchor="start" font-weight="normal" font-style="normal" fill="#1e1e1e" stroke="#1e1e1e" stroke-width="0.03" >Ch16</text>
<rect x="149.60" y="136.40" width="23.90" height="51.80" fill="#fff" stroke="#999" stroke-width="0.5"/>
<rect x="154.11" y="138.61" width="2.38" height="2.38" fill="#000000"/>
<text x="160.80" y="141.30" font-size="4.3" text-anchor="start" font-weight="normal" font-style="normal" fill="#1e1e1e" stroke="#1e1e1e" stroke-width="0.03" >Ch6</text>
<circle cx="155.30" cy="144.93" r="1.25" fill="#ff0000"/>
<text x="160.80" y="146.43" font-size="4.3" text-anchor="start" font-weight="normal" font-style="normal" fill="#1e1e1e" stroke="#1e1e1e" stroke-width="0.03" >Ch7</text>
<path d="M155.30 148.62L156.74 151.12L153.86 151.12Z" fill="#0000ff"/>
<text x="160.80" y="151.56" font-size="4.3" text-anchor="start" font-weight="normal" font-style="normal" fill="#1e1e1e" stroke="#1e1e1e" stroke-width="0.03" >Ch8</text>
<path d="M155.30 156.63L156.74 154.13L153.86 154.13Z" fill="#ff7a00"/>
<text x="160.80" y="156.69" font-size="4.3" text-anchor="start" font-weight="normal" font-style="normal" fill="#1e1e1e" stroke="#1e1e1e" stroke-width="0.03" >Ch9</text>
<path d="M155.30 158.70L156.68 160.32L155.30 161.95L153.93 160.32Z" fill="#00d000"/>
<text x="160.80" y="161.82" font-size="4.3" text-anchor="start" font-weight="normal" font-style="normal" fill="#1e1e1e" stroke="#1e1e1e" stroke-width="0.03" >Ch10</text>
<circle cx="155.30" cy="165.45" r="1.15" fill="#fff" stroke="#3a3a3a" stroke-width="0.65"/>
<text x="160.80" y="166.95" font-size="4.3" text-anchor="start" font-weight="normal" font-style="normal" fill="#1e1e1e" stroke="#1e1e1e" stroke-width="0.03" >Ch11</text>
<circle cx="155.30" cy="170.58" r="1.19" fill="#ffb7e0" stroke="#ff88cc" stroke-width="0.50"/>
<text x="160.80" y="172.08" font-size="4.3" text-anchor="start" font-weight="normal" font-style="normal" fill="#1e1e1e" stroke="#1e1e1e" stroke-width="0.03" >Ch12</text>
<path d="M155.30 174.34L156.68 176.71L153.93 176.71Z" fill="#95f2d7" stroke="#40e8b8" stroke-width="0.62" stroke-linejoin="round"/>
<text x="160.80" y="177.21" font-size="4.3" text-anchor="start" font-weight="normal" font-style="normal" fill="#1e1e1e" stroke="#1e1e1e" stroke-width="0.03" >Ch13</text>
<path d="M155.30 179.22L156.68 180.84L155.30 182.47L153.93 180.84Z" fill="#e050ff"/>
<text x="160.80" y="182.34" font-size="4.3" text-anchor="start" font-weight="normal" font-style="normal" fill="#1e1e1e" stroke="#1e1e1e" stroke-width="0.03" >Xen14</text>
<path d="M155.30 187.35L156.68 184.97L153.93 184.97Z" fill="#ffb3b0" stroke="#ff7570" stroke-width="0.62" stroke-linejoin="round"/>
<text x="160.80" y="187.47" font-size="4.3" text-anchor="start" font-weight="normal" font-style="normal" fill="#1e1e1e" stroke="#1e1e1e" stroke-width="0.03" >Ch16</text>
<rect x="202.00" y="137.20" width="121.10" height="97.20" fill="none" stroke="#6e6e6e" stroke-width="0.8"/>
<line x1="202.00" y1="234.40" x2="202.00" y2="236.30" stroke="#555" stroke-width="0.6" />
<line x1="202.00" y1="137.20" x2="202.00" y2="138.60" stroke="#6e6e6e" stroke-width="0.5" />
<text x="202.00" y="241.30" font-size="4.8" text-anchor="middle" font-weight="normal" font-style="normal" fill="#222222" stroke="#222222" stroke-width="0.05" >1.8</text>
<line x1="220.70" y1="234.40" x2="220.70" y2="236.30" stroke="#555" stroke-width="0.6" />
<line x1="220.70" y1="137.20" x2="220.70" y2="138.60" stroke="#6e6e6e" stroke-width="0.5" />
<text x="220.70" y="241.30" font-size="4.8" text-anchor="middle" font-weight="normal" font-style="normal" fill="#222222" stroke="#222222" stroke-width="0.05" >1.9</text>
<line x1="239.40" y1="234.40" x2="239.40" y2="236.30" stroke="#555" stroke-width="0.6" />
<line x1="239.40" y1="137.20" x2="239.40" y2="138.60" stroke="#6e6e6e" stroke-width="0.5" />
<text x="239.40" y="241.30" font-size="4.8" text-anchor="middle" font-weight="normal" font-style="normal" fill="#222222" stroke="#222222" stroke-width="0.05" >2.0</text>
<line x1="258.10" y1="234.40" x2="258.10" y2="236.30" stroke="#555" stroke-width="0.6" />
<line x1="258.10" y1="137.20" x2="258.10" y2="138.60" stroke="#6e6e6e" stroke-width="0.5" />
<text x="258.10" y="241.30" font-size="4.8" text-anchor="middle" font-weight="normal" font-style="normal" fill="#222222" stroke="#222222" stroke-width="0.05" >2.1</text>
<line x1="276.80" y1="234.40" x2="276.80" y2="236.30" stroke="#555" stroke-width="0.6" />
<line x1="276.80" y1="137.20" x2="276.80" y2="138.60" stroke="#6e6e6e" stroke-width="0.5" />
<text x="276.80" y="241.30" font-size="4.8" text-anchor="middle" font-weight="normal" font-style="normal" fill="#222222" stroke="#222222" stroke-width="0.05" >2.2</text>
<line x1="295.50" y1="234.40" x2="295.50" y2="236.30" stroke="#555" stroke-width="0.6" />
<line x1="295.50" y1="137.20" x2="295.50" y2="138.60" stroke="#6e6e6e" stroke-width="0.5" />
<text x="295.50" y="241.30" font-size="4.8" text-anchor="middle" font-weight="normal" font-style="normal" fill="#222222" stroke="#222222" stroke-width="0.05" >2.3</text>
<line x1="314.20" y1="234.40" x2="314.20" y2="236.30" stroke="#555" stroke-width="0.6" />
<line x1="314.20" y1="137.20" x2="314.20" y2="138.60" stroke="#6e6e6e" stroke-width="0.5" />
<text x="314.20" y="241.30" font-size="4.8" text-anchor="middle" font-weight="normal" font-style="normal" fill="#222222" stroke="#222222" stroke-width="0.05" >2.4</text>
<line x1="211.35" y1="234.40" x2="211.35" y2="235.20" stroke="#6e6e6e" stroke-width="0.45" />
<line x1="211.35" y1="137.20" x2="211.35" y2="138.00" stroke="#6e6e6e" stroke-width="0.45" />
<line x1="230.05" y1="234.40" x2="230.05" y2="235.20" stroke="#6e6e6e" stroke-width="0.45" />
<line x1="230.05" y1="137.20" x2="230.05" y2="138.00" stroke="#6e6e6e" stroke-width="0.45" />
<line x1="248.75" y1="234.40" x2="248.75" y2="235.20" stroke="#6e6e6e" stroke-width="0.45" />
<line x1="248.75" y1="137.20" x2="248.75" y2="138.00" stroke="#6e6e6e" stroke-width="0.45" />
<line x1="267.45" y1="234.40" x2="267.45" y2="235.20" stroke="#6e6e6e" stroke-width="0.45" />
<line x1="267.45" y1="137.20" x2="267.45" y2="138.00" stroke="#6e6e6e" stroke-width="0.45" />
<line x1="286.15" y1="234.40" x2="286.15" y2="235.20" stroke="#6e6e6e" stroke-width="0.45" />
<line x1="286.15" y1="137.20" x2="286.15" y2="138.00" stroke="#6e6e6e" stroke-width="0.45" />
<line x1="304.85" y1="234.40" x2="304.85" y2="235.20" stroke="#6e6e6e" stroke-width="0.45" />
<line x1="304.85" y1="137.20" x2="304.85" y2="138.00" stroke="#6e6e6e" stroke-width="0.45" />
<line x1="323.55" y1="234.40" x2="323.55" y2="235.20" stroke="#6e6e6e" stroke-width="0.45" />
<line x1="323.55" y1="137.20" x2="323.55" y2="138.00" stroke="#6e6e6e" stroke-width="0.45" />
<line x1="202.00" y1="234.40" x2="200.10" y2="234.40" stroke="#555" stroke-width="0.6" />
<line x1="323.10" y1="234.40" x2="321.70" y2="234.40" stroke="#6e6e6e" stroke-width="0.5" />
<text x="198.80" y="236.10" font-size="4.8" text-anchor="end" font-weight="normal" font-style="normal" fill="#222222" stroke="#222222" stroke-width="0.05" >285</text>
<line x1="202.00" y1="222.25" x2="200.10" y2="222.25" stroke="#555" stroke-width="0.6" />
<line x1="323.10" y1="222.25" x2="321.70" y2="222.25" stroke="#6e6e6e" stroke-width="0.5" />
<text x="198.80" y="223.95" font-size="4.8" text-anchor="end" font-weight="normal" font-style="normal" fill="#222222" stroke="#222222" stroke-width="0.05" >290</text>
<line x1="202.00" y1="210.10" x2="200.10" y2="210.10" stroke="#555" stroke-width="0.6" />
<line x1="323.10" y1="210.10" x2="321.70" y2="210.10" stroke="#6e6e6e" stroke-width="0.5" />
<text x="198.80" y="211.80" font-size="4.8" text-anchor="end" font-weight="normal" font-style="normal" fill="#222222" stroke="#222222" stroke-width="0.05" >295</text>
<line x1="202.00" y1="197.95" x2="200.10" y2="197.95" stroke="#555" stroke-width="0.6" />
<line x1="323.10" y1="197.95" x2="321.70" y2="197.95" stroke="#6e6e6e" stroke-width="0.5" />
<text x="198.80" y="199.65" font-size="4.8" text-anchor="end" font-weight="normal" font-style="normal" fill="#222222" stroke="#222222" stroke-width="0.05" >300</text>
<line x1="202.00" y1="185.80" x2="200.10" y2="185.80" stroke="#555" stroke-width="0.6" />
<line x1="323.10" y1="185.80" x2="321.70" y2="185.80" stroke="#6e6e6e" stroke-width="0.5" />
<text x="198.80" y="187.50" font-size="4.8" text-anchor="end" font-weight="normal" font-style="normal" fill="#222222" stroke="#222222" stroke-width="0.05" >305</text>
<line x1="202.00" y1="173.65" x2="200.10" y2="173.65" stroke="#555" stroke-width="0.6" />
<line x1="323.10" y1="173.65" x2="321.70" y2="173.65" stroke="#6e6e6e" stroke-width="0.5" />
<text x="198.80" y="175.35" font-size="4.8" text-anchor="end" font-weight="normal" font-style="normal" fill="#222222" stroke="#222222" stroke-width="0.05" >310</text>
<line x1="202.00" y1="161.50" x2="200.10" y2="161.50" stroke="#555" stroke-width="0.6" />
<line x1="323.10" y1="161.50" x2="321.70" y2="161.50" stroke="#6e6e6e" stroke-width="0.5" />
<text x="198.80" y="163.20" font-size="4.8" text-anchor="end" font-weight="normal" font-style="normal" fill="#222222" stroke="#222222" stroke-width="0.05" >315</text>
<line x1="202.00" y1="149.35" x2="200.10" y2="149.35" stroke="#555" stroke-width="0.6" />
<line x1="323.10" y1="149.35" x2="321.70" y2="149.35" stroke="#6e6e6e" stroke-width="0.5" />
<text x="198.80" y="151.05" font-size="4.8" text-anchor="end" font-weight="normal" font-style="normal" fill="#222222" stroke="#222222" stroke-width="0.05" >320</text>
<line x1="202.00" y1="137.20" x2="200.10" y2="137.20" stroke="#555" stroke-width="0.6" />
<line x1="323.10" y1="137.20" x2="321.70" y2="137.20" stroke="#6e6e6e" stroke-width="0.5" />
<text x="198.80" y="138.90" font-size="4.8" text-anchor="end" font-weight="normal" font-style="normal" fill="#222222" stroke="#222222" stroke-width="0.05" >325</text>
<line x1="202.00" y1="228.33" x2="201.20" y2="228.33" stroke="#6e6e6e" stroke-width="0.45" />
<line x1="323.10" y1="228.33" x2="322.30" y2="228.33" stroke="#6e6e6e" stroke-width="0.45" />
<line x1="202.00" y1="216.18" x2="201.20" y2="216.18" stroke="#6e6e6e" stroke-width="0.45" />
<line x1="323.10" y1="216.18" x2="322.30" y2="216.18" stroke="#6e6e6e" stroke-width="0.45" />
<line x1="202.00" y1="204.03" x2="201.20" y2="204.03" stroke="#6e6e6e" stroke-width="0.45" />
<line x1="323.10" y1="204.03" x2="322.30" y2="204.03" stroke="#6e6e6e" stroke-width="0.45" />
<line x1="202.00" y1="191.88" x2="201.20" y2="191.88" stroke="#6e6e6e" stroke-width="0.45" />
<line x1="323.10" y1="191.88" x2="322.30" y2="191.88" stroke="#6e6e6e" stroke-width="0.45" />
<line x1="202.00" y1="179.72" x2="201.20" y2="179.72" stroke="#6e6e6e" stroke-width="0.45" />
<line x1="323.10" y1="179.72" x2="322.30" y2="179.72" stroke="#6e6e6e" stroke-width="0.45" />
<line x1="202.00" y1="167.57" x2="201.20" y2="167.57" stroke="#6e6e6e" stroke-width="0.45" />
<line x1="323.10" y1="167.57" x2="322.30" y2="167.57" stroke="#6e6e6e" stroke-width="0.45" />
<line x1="202.00" y1="155.43" x2="201.20" y2="155.43" stroke="#6e6e6e" stroke-width="0.45" />
<line x1="323.10" y1="155.43" x2="322.30" y2="155.43" stroke="#6e6e6e" stroke-width="0.45" />
<line x1="202.00" y1="143.28" x2="201.20" y2="143.28" stroke="#6e6e6e" stroke-width="0.45" />
<line x1="323.10" y1="143.28" x2="322.30" y2="143.28" stroke="#6e6e6e" stroke-width="0.45" />
<text x="180.60" y="129.80" font-size="5.8" text-anchor="start" font-weight="bold" font-style="normal" fill="#000000" stroke="#000000" stroke-width="0.16" >(d)</text>
<text x="262.60" y="250.00" font-size="5.15" text-anchor="middle" font-weight="bold" font-style="normal" fill="#000000" stroke="#000000" stroke-width="0.16" >TO<tspan font-size="3.4" dy="1.2">4</tspan><tspan dy="-1.2" font-style="italic"> Volume </tspan>(Å<tspan font-size="3.4" dy="-1.9">3</tspan><tspan dy="1.9">)</tspan></text>
<text x="0.00" y="0.00" font-size="5.45" text-anchor="middle" font-weight="bold" font-style="normal" fill="#000000" stroke="#000000" stroke-width="0.16" transform="translate(186.8 187) rotate(-90)"><tspan font-style="italic">Unit-cell Volume </tspan>(Å<tspan font-size="3.2" dy="-1.8">3</tspan><tspan dy="1.8">)</tspan></text>
<line x1="204.30" y1="205.90" x2="319.10" y2="140.60" stroke="#666" stroke-width="0.5" />
<line x1="214.20" y1="230.50" x2="319.10" y2="157.10" stroke="#808080" stroke-width="0.55" stroke-dasharray="1.0 1.1"/>
<line x1="251.50" y1="204.70" x2="257.00" y2="204.70" stroke="#444" stroke-width="0.8" />
<line x1="300.90" y1="148.50" x2="307.50" y2="148.50" stroke="#1a33ff" stroke-width="0.4" opacity="0.5"/>
<line x1="289.50" y1="178.60" x2="295.00" y2="178.60" stroke="#0000ff" stroke-width="0.4" opacity="0.5"/>
<rect x="212.21" y="196.91" width="2.18" height="2.18" fill="#a01010"/>
<circle cx="216.10" cy="199.20" r="1.35" fill="#10b010"/>
<path d="M211.50 200.69L213.11 203.49L209.89 203.49Z" fill="#33bbff"/>
<path d="M305.31 149.40L302.51 147.79L302.51 151.01Z" fill="#ff8a20"/>
<path d="M303.19 147.60L305.99 145.99L305.99 149.21Z" fill="#1a33ff"/>
<path d="M295.60 165.26L297.14 167.92L294.06 167.92Z" fill="#95f2d7" stroke="#40e8b8" stroke-width="0.70" stroke-linejoin="round"/>
<path d="M305.90 166.34L307.44 163.68L304.36 163.68Z" fill="#ffb3b0" stroke="#ff7570" stroke-width="0.70" stroke-linejoin="round"/>
<circle cx="296.90" cy="173.60" r="1.33" fill="#ffb7e0" stroke="#ff88cc" stroke-width="0.56"/>
<path d="M289.90 173.48L291.44 175.30L289.90 177.12L288.36 175.30Z" fill="#00d000"/>
<path d="M292.10 176.99L293.71 179.79L290.49 179.79Z" fill="#0000ff"/>
<path d="M286.60 182.51L288.21 179.71L284.99 179.71Z" fill="#ff7a00"/>
<circle cx="281.80" cy="184.10" r="1.40" fill="#ff0000"/>
<rect x="276.47" y="185.97" width="2.66" height="2.66" fill="#000000"/>
<path d="M216.00 225.55L217.65 227.50L216.00 229.45L214.35 227.50Z" fill="#e878ff"/>
<ellipse cx="254.2" cy="204.7" rx="1.5" ry="1.1" fill="#333"/>
<rect x="324.40" y="137.00" width="23.80" height="78.30" fill="#fff" stroke="#999" stroke-width="0.5"/>
<path d="M329.60 138.36L331.04 140.86L328.16 140.86Z" fill="#33bbff"/>
<text x="335.20" y="141.30" font-size="4.3" text-anchor="start" font-weight="normal" font-style="normal" fill="#1e1e1e" stroke="#1e1e1e" stroke-width="0.03" >Mon1</text>
<rect x="328.41" y="143.83" width="2.38" height="2.38" fill="#a01010"/>
<text x="335.20" y="146.52" font-size="4.3" text-anchor="start" font-weight="normal" font-style="normal" fill="#1e1e1e" stroke="#1e1e1e" stroke-width="0.03" >Mon2</text>
<path d="M328.16 150.24L330.66 148.80L330.66 151.68Z" fill="#1a33ff"/>
<text x="335.20" y="151.74" font-size="4.3" text-anchor="start" font-weight="normal" font-style="normal" fill="#1e1e1e" stroke="#1e1e1e" stroke-width="0.03" >Gasp3</text>
<path d="M331.04 155.46L328.54 154.02L328.54 156.90Z" fill="#ff8a20"/>
<text x="335.20" y="156.96" font-size="4.3" text-anchor="start" font-weight="normal" font-style="normal" fill="#1e1e1e" stroke="#1e1e1e" stroke-width="0.03" >Gasp4</text>
<rect x="328.41" y="159.49" width="2.38" height="2.38" fill="#000000"/>
<text x="335.20" y="162.18" font-size="4.3" text-anchor="start" font-weight="normal" font-style="normal" fill="#1e1e1e" stroke="#1e1e1e" stroke-width="0.03" >Ch6</text>
<circle cx="329.60" cy="165.90" r="1.25" fill="#ff0000"/>
<text x="335.20" y="167.40" font-size="4.3" text-anchor="start" font-weight="normal" font-style="normal" fill="#1e1e1e" stroke="#1e1e1e" stroke-width="0.03" >Ch7</text>
<path d="M329.60 169.68L331.04 172.18L328.16 172.18Z" fill="#0000ff"/>
<text x="335.20" y="172.62" font-size="4.3" text-anchor="start" font-weight="normal" font-style="normal" fill="#1e1e1e" stroke="#1e1e1e" stroke-width="0.03" >Ch8</text>
<path d="M329.60 177.78L331.04 175.28L328.16 175.28Z" fill="#ff7a00"/>
<text x="335.20" y="177.84" font-size="4.3" text-anchor="start" font-weight="normal" font-style="normal" fill="#1e1e1e" stroke="#1e1e1e" stroke-width="0.03" >Ch9</text>
<path d="M329.60 179.94L330.98 181.56L329.60 183.19L328.23 181.56Z" fill="#00d000"/>
<text x="335.20" y="183.06" font-size="4.3" text-anchor="start" font-weight="normal" font-style="normal" fill="#1e1e1e" stroke="#1e1e1e" stroke-width="0.03" >Ch10</text>
<circle cx="329.60" cy="186.78" r="1.15" fill="#fff" stroke="#3a3a3a" stroke-width="0.65"/>
<text x="335.20" y="188.28" font-size="4.3" text-anchor="start" font-weight="normal" font-style="normal" fill="#1e1e1e" stroke="#1e1e1e" stroke-width="0.03" >Ch11</text>
<circle cx="329.60" cy="192.00" r="1.19" fill="#ffb7e0" stroke="#ff88cc" stroke-width="0.50"/>
<text x="335.20" y="193.50" font-size="4.3" text-anchor="start" font-weight="normal" font-style="normal" fill="#1e1e1e" stroke="#1e1e1e" stroke-width="0.03" >Ch12</text>
<path d="M329.60 195.84L330.98 198.22L328.23 198.22Z" fill="#95f2d7" stroke="#40e8b8" stroke-width="0.62" stroke-linejoin="round"/>
<text x="335.20" y="198.72" font-size="4.3" text-anchor="start" font-weight="normal" font-style="normal" fill="#1e1e1e" stroke="#1e1e1e" stroke-width="0.03" >Ch13</text>
<path d="M329.60 200.94L330.85 202.44L329.60 203.94L328.35 202.44Z" fill="none" stroke="#e050ff" stroke-width="0.75"/>
<text x="335.20" y="203.94" font-size="4.3" text-anchor="start" font-weight="normal" font-style="normal" fill="#1e1e1e" stroke="#1e1e1e" stroke-width="0.03" >Xen14</text>
<circle cx="329.60" cy="207.66" r="1.25" fill="#10b010"/>
<text x="335.20" y="209.16" font-size="4.3" text-anchor="start" font-weight="normal" font-style="normal" fill="#1e1e1e" stroke="#1e1e1e" stroke-width="0.03" >Mon14</text>
<path d="M329.60 214.25L330.98 211.88L328.23 211.88Z" fill="#ffb3b0" stroke="#ff7570" stroke-width="0.62" stroke-linejoin="round"/>
<text x="335.20" y="214.38" font-size="4.3" text-anchor="start" font-weight="normal" font-style="normal" fill="#1e1e1e" stroke="#1e1e1e" stroke-width="0.03" >Ch16</text>
</svg></body></html>
